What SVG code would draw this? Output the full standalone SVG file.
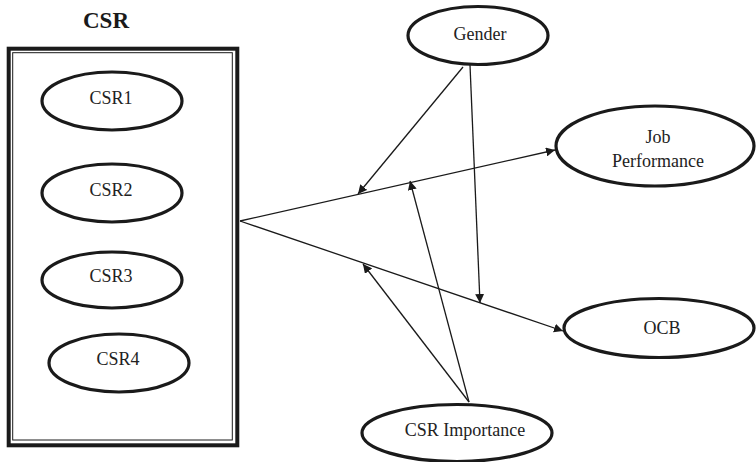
<svg xmlns="http://www.w3.org/2000/svg" width="756" height="462" viewBox="0 0 756 462">
<style>
.node{fill:#fff;stroke:#1a1a1a;stroke-width:3.2}
text{font-family:'Liberation Serif','Times New Roman',Times,serif;fill:#222;text-anchor:middle}
.lbl{font-size:18px}
.ttl{font-size:23px;font-weight:bold;fill:#1a1a1a}
.edge{stroke:#1a1a1a;stroke-width:1.3;fill:none;marker-end:url(#ah)}
</style>
<defs>
<marker id="ah" viewBox="0 0 10 10" refX="10" refY="5" markerWidth="9" markerHeight="9" markerUnits="userSpaceOnUse" orient="auto">
<path d="M0,0 L10,5 L0,10 z" fill="#1a1a1a"/>
</marker>
</defs>
<rect width="756" height="462" fill="#fff"/>
<g id="csr-group">
<text class="ttl" x="106" y="28" font-family="Liberation Serif, serif">CSR</text>
<rect x="8.7" y="48.7" width="228.6" height="396.6" fill="#fff" stroke="#1a1a1a" stroke-width="4"/>
<rect x="12.7" y="52.7" width="219.6" height="387.3" fill="none" stroke="#1a1a1a" stroke-width="1"/>
</g>
<g id="csr1"><ellipse class="node" cx="112" cy="101" rx="70" ry="29"/><text class="lbl" x="111" y="104">CSR1</text></g>
<g id="csr2"><ellipse class="node" cx="112" cy="193" rx="70" ry="29"/><text class="lbl" x="111" y="196">CSR2</text></g>
<g id="csr3"><ellipse class="node" cx="112" cy="280" rx="70" ry="28"/><text class="lbl" x="111" y="282">CSR3</text></g>
<g id="csr4"><ellipse class="node" cx="119" cy="363" rx="70" ry="29"/><text class="lbl" x="118" y="365">CSR4</text></g>
<g id="gender"><ellipse class="node" cx="478" cy="35.5" rx="70" ry="29"/><text class="lbl" x="480" y="40">Gender</text></g>
<g id="job-performance"><ellipse class="node" cx="655" cy="146" rx="99" ry="40"/><text class="lbl" x="658" y="143">Job</text><text class="lbl" x="658" y="167">Performance</text></g>
<g id="ocb"><ellipse class="node" cx="659" cy="328" rx="95" ry="29.5"/><text class="lbl" x="662" y="334">OCB</text></g>
<g id="csr-importance"><ellipse class="node" cx="457" cy="433" rx="95" ry="28.5"/><text class="lbl" x="465" y="436">CSR Importance</text></g>
<g id="connectors">
<line class="edge" x1="240" y1="221" x2="555" y2="150"/>
<line class="edge" x1="240" y1="221" x2="563" y2="331"/>
<line class="edge" x1="463" y1="67" x2="358" y2="194"/>
<line class="edge" x1="470" y1="65" x2="480" y2="303"/>
<line class="edge" x1="469" y1="402" x2="410" y2="181"/>
<line class="edge" x1="469" y1="402" x2="363" y2="264"/>
</g>
</svg>
